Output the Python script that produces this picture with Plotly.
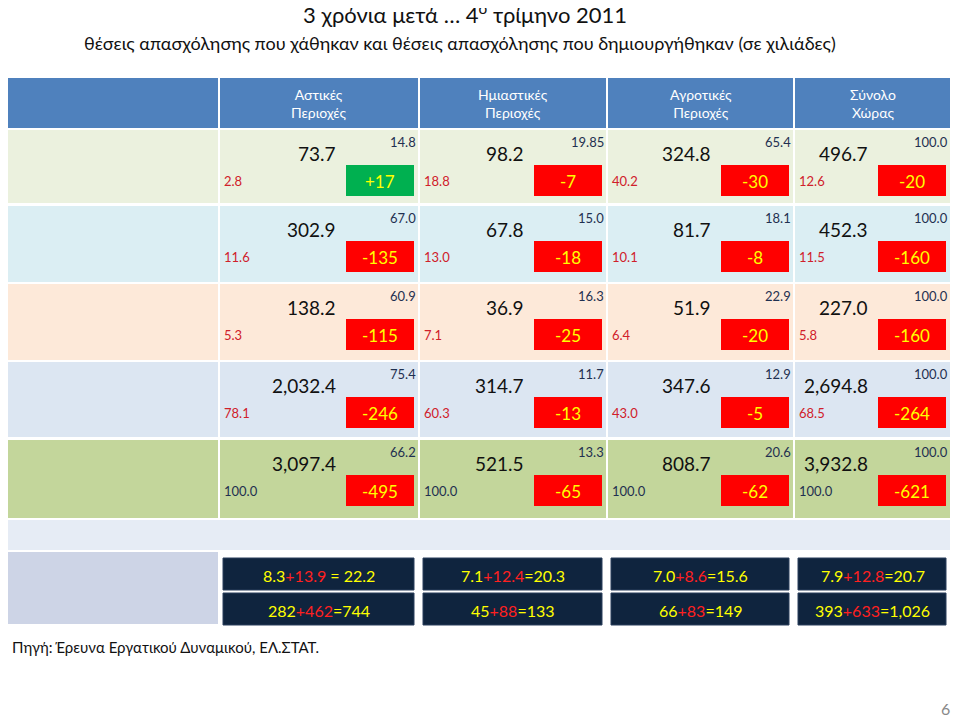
import plotly.graph_objects as go

# data
regions = ["Αστικές<br>Περιοχές", "Ημιαστικές<br>Περιοχές", "Αγροτικές<br>Περιοχές", "Σύνολο<br>Χώρας"]
sectors = ["Πρωτογενής Τομέας", "Δευτερογενής Τομέας", "Κατασκευές", "Τριτογενής Τομέας", "ΣΥΝΟΛΟ"]
totals = [["73.7", "98.2", "324.8", "496.7"],
          ["302.9", "67.8", "81.7", "452.3"],
          ["138.2", "36.9", "51.9", "227.0"],
          ["2,032.4", "314.7", "347.6", "2,694.8"],
          ["3,097.4", "521.5", "808.7", "3,932.8"]]
col_share = [["14.8", "19.85", "65.4", "100.0"],
             ["67.0", "15.0", "18.1", "100.0"],
             ["60.9", "16.3", "22.9", "100.0"],
             ["75.4", "11.7", "12.9", "100.0"],
             ["66.2", "13.3", "20.6", "100.0"]]
row_share = [["2.8", "18.8", "40.2", "12.6"],
             ["11.6", "13.0", "10.1", "11.5"],
             ["5.3", "7.1", "6.4", "5.8"],
             ["78.1", "60.3", "43.0", "68.5"],
             ["100.0", "100.0", "100.0", "100.0"]]
changes = [[17, -7, -30, -20],
           [-135, -18, -8, -160],
           [-115, -25, -20, -160],
           [-246, -13, -5, -264],
           [-495, -65, -62, -621]]
unemp_rate = [("8.3", "13.9", " = 22.2"), ("7.1", "12.4", "=20.3"), ("7.0", "8.6", "=15.6"), ("7.9", "12.8", "=20.7")]
unemp_count = [("282", "462", "=744"), ("45", "88", "=133"), ("66", "83", "=149"), ("393", "633", "=1,026")]

FONT = "Lato"
col_edges = [(220, 418), (420, 606), (608, 793), (795, 950)]
row_edges = [(130, 203), (206, 282), (284, 360), (362, 437), (440, 518)]
row_colors = ["#EBF1DE", "#DBEEF3", "#FDE9D9", "#DCE6F2", "#C3D69B"]

fig = go.Figure()
shapes, ann = [], []

def rect(x0, y0, x1, y1, color):
    shapes.append(dict(type="rect", x0=x0, x1=x1, y0=y0, y1=y1, fillcolor=color, line_width=0, layer="below"))

def text(x, y, s, size=13, color="#000", xanchor="center", yanchor="middle"):
    ann.append(dict(x=x, y=y, text=s, showarrow=False, xanchor=xanchor, yanchor=yanchor,
                    font=dict(family=FONT, size=size, color=color)))

# header row
rect(0, 78, 950, 128, "#4F81BD")
for (a, b), r in zip(col_edges, regions):
    shapes.append(dict(type="line", x0=a - 1, x1=a - 1, y0=78, y1=128, line=dict(color="white", width=2)))
    text((a + b) / 2, 103, r, 14, "white")

# body rows
for i, (y0, y1) in enumerate(row_edges):
    rect(0, y0, 950, y1, row_colors[i])
    text(5, (y0 + y1) / 2, sectors[i], 17, "#111", xanchor="left")
    for j, (a, b) in enumerate(col_edges):
        shapes.append(dict(type="line", x0=a - 1, x1=a - 1, y0=y0, y1=y1, line=dict(color="white", width=2)))
        bx1 = b - 4
        bx0 = bx1 - 68
        ch = changes[i][j]
        shapes.append(dict(type="rect", x0=bx0, x1=bx1, y0=y0 + 35, y1=y0 + 66,
                           fillcolor="#00B050" if ch > 0 else "#FF0000", line_width=0))
        text((bx0 + bx1) / 2, y0 + 51, f"{ch:+d}" if ch > 0 else str(ch), 17, "#FFFF00")
        text(bx0 - 8, y0 + 23, totals[i][j], 19, "#111", xanchor="right")
        text(b, y0 + 12, col_share[i][j], 13, "#1F3050", xanchor="right")
        text(a + 2, y0 + 51, row_share[i][j], 13, "#1F3050" if i == 4 else "#D0202A", xanchor="left")

# blank row and unemployment rows
rect(0, 520, 950, 550, "#E6ECF5")
rect(0, 552, 218, 624, "#CDD4E6")
text(3, 566, "% ανεργίας", 15, "#111", xanchor="left")
text(3, 605, "Άνεργοι (σε χιλιάδες)", 15, "#111", xanchor="left")
Y, R = "#FFFF00", "#FF2020"
for j, (a, b) in enumerate(col_edges):
    for k, vals in enumerate([unemp_rate[j], unemp_count[j]]):
        y0 = 558 + k * 35
        shapes.append(dict(type="rect", x0=a + 3, x1=b - 4, y0=y0, y1=y0 + 32,
                           fillcolor="#0F243E", line=dict(color="#2A3E5C", width=1)))
        s = (f"<span style='color:{Y}'>{vals[0]}</span><span style='color:{R}'>+{vals[1]}</span>"
             f"<span style='color:{Y}'>{vals[2]}</span>")
        text((a + b) / 2, y0 + 17, s, 16, Y)

# titles and footer
text(465, 13, "3 χρόνια μετά … 4<sup>ο</sup> τρίμηνο 2011", 22, "#111")
text(460, 43, "θέσεις απασχόλησης που χάθηκαν και θέσεις απασχόλησης που δημιουργήθηκαν (σε χιλιάδες)", 18, "#111")
text(10, 647, "Πηγή: Έρευνα Εργατικού Δυναμικού, ΕΛ.ΣΤΑΤ.", 15, "#111", xanchor="left")
text(952, 708, "6", 16, "#888", xanchor="right")

# the page body adds an 8px margin, so shift the axis ranges to compensate
fig.update_layout(
    width=960, height=722, margin=dict(l=0, r=0, t=0, b=0),
    paper_bgcolor="white", plot_bgcolor="white", showlegend=False,
    xaxis=dict(range=[8, 968], visible=False, fixedrange=True),
    yaxis=dict(range=[730, 8], visible=False, fixedrange=True),
    shapes=shapes, annotations=ann,
)
fig.write_html("out.html")
